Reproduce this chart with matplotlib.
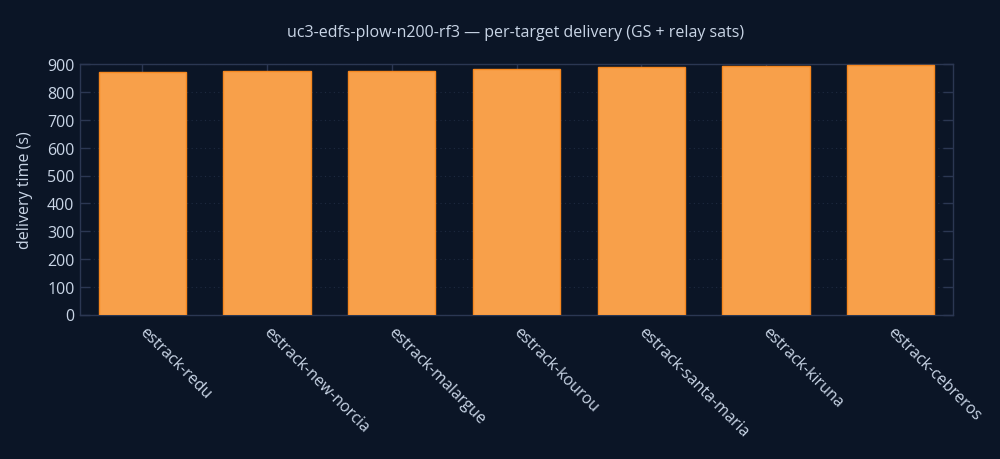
import matplotlib
matplotlib.use("Agg")
import matplotlib.pyplot as plt
import matplotlib.transforms as mtransforms

categories = ["estrack-redu", "estrack-new-norcia", "estrack-malargue", "estrack-kourou",
              "estrack-santa-maria", "estrack-kiruna", "estrack-cebreros"]
delivery = [874, 875, 876, 882, 889, 894, 898]
yticks = [0, 100, 200, 300, 400, 500, 600, 700, 800, 900]

BG = "#0b1526"
TXT = "#c9d5e6"
SPINE = "#2b3752"

plt.rcParams['font.family'] = ['Open Sans', 'Noto Sans', 'DejaVu Sans']

fig = plt.figure(figsize=(10, 4.6), dpi=100, facecolor=BG)
ax = fig.add_axes([0.080, 1 - 315.5 / 460, 0.873, (315.5 - 65.3) / 460])
ax.set_facecolor(BG)

x = list(range(len(categories)))
ax.bar(x, delivery, width=0.7, color="#f8a04a", edgecolor="#f5871f", linewidth=1.0, zorder=3)

ax.set_xlim(-0.5, len(categories) - 0.5)
ax.set_ylim(0, 900)
ax.set_yticks(yticks)
ax.set_xticks(x)
ax.set_xticklabels(categories, rotation=-45, ha="left", va="top", rotation_mode="anchor",
                   color=TXT, fontsize=11.5)
ax.tick_params(axis="x", pad=9)
ax.tick_params(axis="y", labelcolor=TXT, labelsize=11.5, pad=4)
ax.tick_params(direction="in", color=SPINE, length=7, width=1,
               top=True, right=True, bottom=True, left=True)
offset = mtransforms.ScaledTranslation(0.05, 0.035, fig.dpi_scale_trans)
for lbl in ax.get_xticklabels():
    lbl.set_transform(lbl.get_transform() + offset)
for s in ax.spines.values():
    s.set_color(SPINE)
    s.set_linewidth(1)
ax.grid(axis="y", color="#1e2a40", linestyle=(0, (1, 3)), linewidth=0.8, zorder=0)

ax.set_ylabel("delivery time (s)", color=TXT, fontsize=11.5, labelpad=10)
fig.text(0.516, 1 - 33 / 460, "uc3-edfs-plow-n200-rf3 \u2014 per-target delivery (GS + relay sats)",
         ha="center", va="center", color=TXT, fontsize=11.5)

fig.savefig("out.png", dpi=100, facecolor=BG)
